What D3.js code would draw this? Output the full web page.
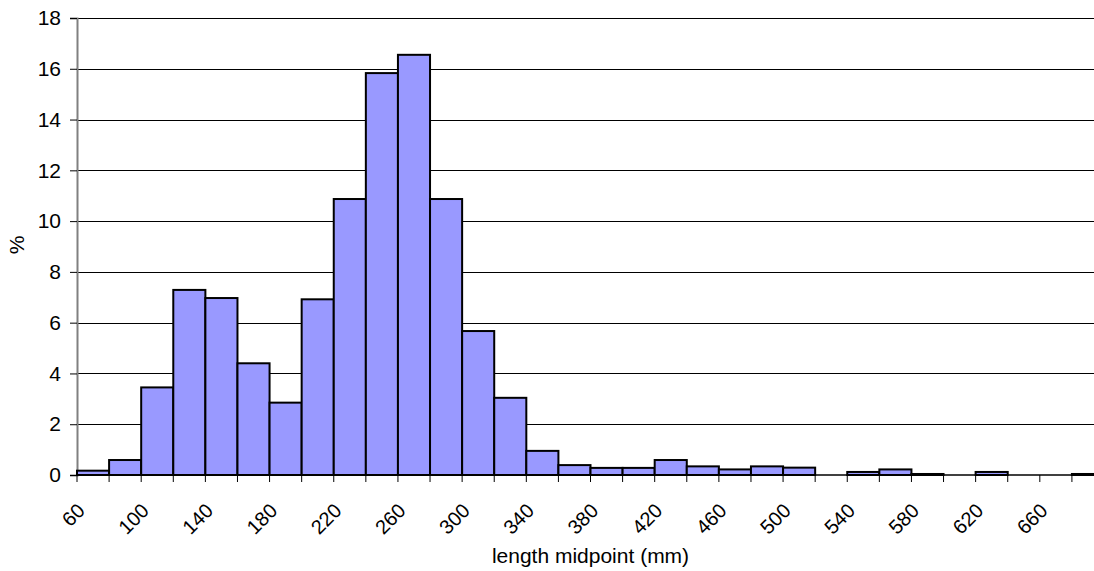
<!DOCTYPE html>
<html>
<head>
<meta charset="utf-8">
<script src="https://cdn.jsdelivr.net/npm/d3@7"></script>
<style>
  html, body { margin: 0; padding: 0; background: #fff; }
  svg { display: block; font-family: "Liberation Sans", Arial, sans-serif; }
</style>
</head>
<body>
<svg id="chart" width="1094" height="571"></svg>
<script>
// Length-frequency distribution (% of fish per 20 mm length class)
const categories = [60, 80, 100, 120, 140, 160, 180, 200, 220, 240, 260, 280, 300, 320, 340, 360,
                    380, 400, 420, 440, 460, 480, 500, 520, 540, 560, 580, 600, 620, 640, 660, 680];
const percents = [0.17, 0.59, 3.45, 7.29, 6.97, 4.40, 2.85, 6.92, 10.87, 15.83, 16.55, 10.87, 5.67, 3.04, 0.95, 0.39,
                  0.28, 0.28, 0.59, 0.34, 0.22, 0.34, 0.29, 0, 0.12, 0.22, 0.04, 0, 0.12, 0, 0, 0.04];
const xTickLabels = [60, 100, 140, 180, 220, 260, 300, 340, 380, 420, 460, 500, 540, 580, 620, 660];
const yTicks = [0, 2, 4, 6, 8, 10, 12, 14, 16, 18];

const svg = d3.select("#chart");
const plot = { left: 77, right: 1104, top: 18, bottom: 475 };
const fontSize = 21;

const x = d3.scaleBand()
  .domain(categories)
  .range([plot.left, plot.right])
  .padding(0);

const y = d3.scaleLinear()
  .domain([0, 18])
  .range([plot.bottom, plot.top]);

// horizontal gridlines
svg.append("g")
  .selectAll("line")
  .data(yTicks.filter(d => d > 0))
  .join("line")
  .attr("x1", plot.left)
  .attr("x2", plot.right)
  .attr("y1", d => Math.round(y(d)) + 0.5)
  .attr("y2", d => Math.round(y(d)) + 0.5)
  .attr("stroke", "#000")
  .attr("stroke-width", 1);

// y axis
const yAxis = svg.append("g")
  .attr("transform", `translate(${plot.left},0)`)
  .call(d3.axisLeft(y).tickValues(yTicks).tickSize(7).tickPadding(9).tickFormat(d3.format("d")));
yAxis.select(".domain").attr("stroke", "#808080").attr("stroke-width", 2);
yAxis.selectAll(".tick line").attr("stroke", "#000");
yAxis.selectAll(".tick text")
  .attr("font-size", fontSize)
  .attr("fill", "#000")
  .attr("font-family", "Liberation Sans, Arial, sans-serif");

// bars
svg.append("g")
  .selectAll("rect")
  .data(categories.map((c, i) => ({ c, v: percents[i] })).filter(d => d.v > 0))
  .join("rect")
  .attr("x", d => x(d.c))
  .attr("width", x.bandwidth())
  .attr("y", d => y(d.v))
  .attr("height", d => y(0) - y(d.v))
  .attr("fill", "#9999ff")
  .attr("stroke", "#000")
  .attr("stroke-width", 2);

// x axis baseline and tick marks at class boundaries
const xAxis = svg.append("g");
xAxis.append("line")
  .attr("x1", plot.left).attr("x2", plot.right)
  .attr("y1", y(0)).attr("y2", y(0))
  .attr("stroke", "#000").attr("stroke-width", 1.5);
const boundaries = categories.map(c => x(c)).concat([x(categories[categories.length - 1]) + x.bandwidth()]);
xAxis.selectAll("line.tick")
  .data(boundaries)
  .join("line")
  .attr("class", "tick")
  .attr("x1", d => d).attr("x2", d => d)
  .attr("y1", y(0)).attr("y2", y(0) + 7)
  .attr("stroke", "#000").attr("stroke-width", 1);

// rotated class labels
xAxis.selectAll("text")
  .data(xTickLabels)
  .join("text")
  .attr("transform", d => `translate(${x(d) + x.bandwidth() / 2 - 7},${y(0) + 37}) rotate(-45)`)
  .attr("text-anchor", "end")
  .attr("font-size", 20)
  .attr("fill", "#000")
  .text(d => d);

// axis titles
svg.append("text")
  .attr("x", (plot.left + plot.right) / 2)
  .attr("y", 563)
  .attr("text-anchor", "middle")
  .attr("font-size", fontSize)
  .attr("fill", "#000")
  .text("length midpoint (mm)");

svg.append("text")
  .attr("transform", `translate(24,245) rotate(-90)`)
  .attr("text-anchor", "middle")
  .attr("font-size", fontSize)
  .attr("fill", "#000")
  .text("%");
</script>
</body>
</html>
